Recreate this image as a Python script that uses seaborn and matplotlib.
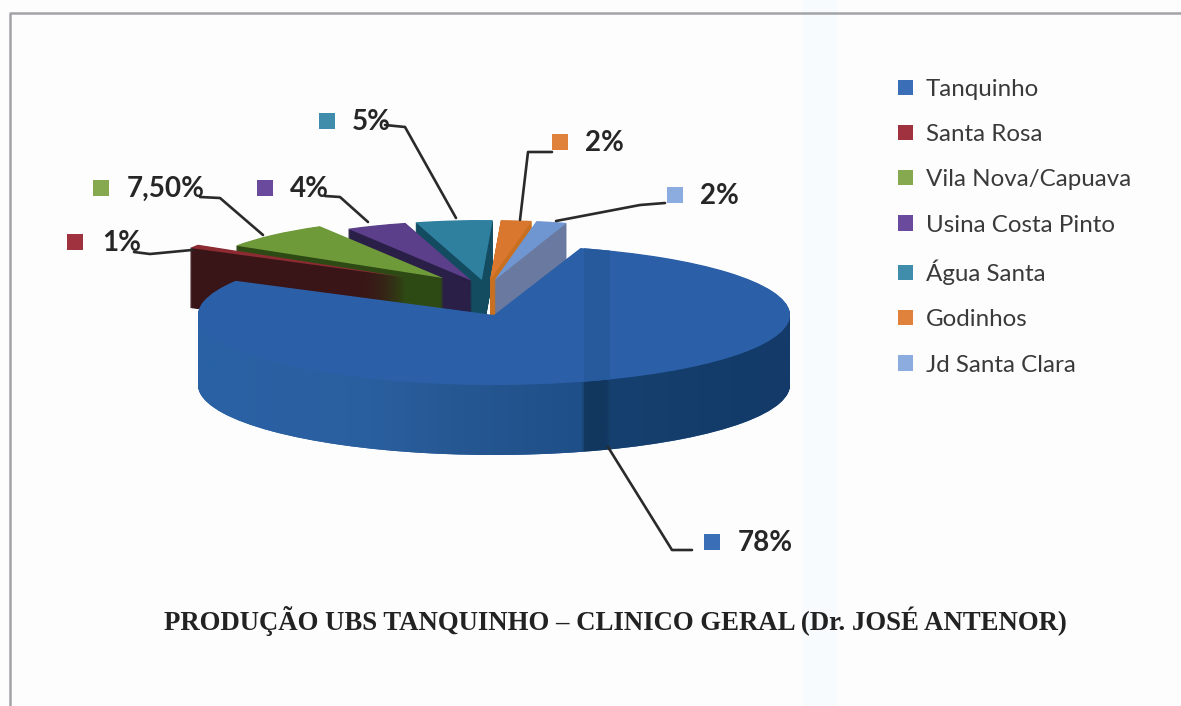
import numpy as np
import matplotlib
matplotlib.use("Agg")
import matplotlib.pyplot as plt
import seaborn as sns
from matplotlib.colors import LinearSegmentedColormap
from matplotlib.patches import Patch
from matplotlib.path import Path

# data
places = ["Tanquinho", "Santa Rosa", "Vila Nova/Capuava", "Usina Costa Pinto",
          "Água Santa", "Godinhos", "Jd Santa Clara"]
shares = [78, 1, 7.5, 4, 5, 2, 2]
share_labels = ["78%", "1%", "7,50%", "4%", "5%", "2%", "2%"]
title_text = "PRODUÇÃO UBS TANQUINHO – CLINICO GERAL (Dr. JOSÉ ANTENOR)"

W, H = 1181, 706

top_colors = sns.color_palette(["#2b60a8", "#8d2b33", "#6f9a3a", "#5b3f8a",
                                "#2f7f9f", "#d9772e", "#7096d2"])
side_colors = sns.color_palette(["#2a5f9f", "#3a1518", "#2e4a14", "#2a1f47",
                                 "#134c60", "#c8701f", "#69799f"])
key_colors = sns.color_palette(["#3a6fb8", "#a0323f", "#86a84f", "#6a4a9c",
                                "#3f8cab", "#e0823c", "#8cabdf"])
NONE = (0, 0, 0, 0)

sns.set_theme(style="white")
plt.rcParams["font.family"] = ["Lato", "DejaVu Sans"]

fig = plt.figure(figsize=(W / 100, H / 100), dpi=100, facecolor="#fdfdfe")


def pie_axes(z):
    ax = fig.add_axes([0, 0, 1, 1])
    ax.set_zorder(z)
    ax.patch.set_visible(False)
    return ax


def fit_axes(ax, cx, cy, sx, sy):
    # one pie unit = sx pixels across and sy pixels down, centre at pixel (cx, cy)
    ax.set_aspect("auto")
    ax.set_xlim(-cx / sx, (W - cx) / sx)
    ax.set_ylim((cy - H) / sy, cy / sy)
    ax.axis("off")


def draw_pie(ax, colors, explode, center=(0, 0)):
    wedges, _ = ax.pie(shares, colors=colors, explode=explode, startangle=73,
                       counterclock=False, center=center,
                       wedgeprops={"linewidth": 0})
    return wedges


# background: scan band and the frame
bg = fig.add_axes([0, 0, 1, 1])
bg.set_zorder(0)
bg.set_xlim(0, W)
bg.set_ylim(H, 0)
bg.axis("off")
bg.axvspan(802, 838, color="#f8fbfd", lw=0)
bg.plot([10, 10, W], [H, 13, 13], color="#a2a2a8", lw=1.8)

# small slices pulled out, at the back
ax_back = pie_axes(1)
back_explode = [0, 0.38, 0.25, 0.15, 0.15, 0.15, 0.15]
back_order = {0: 0, 4: 1, 5: 2, 6: 3, 3: 4, 2: 5, 1: 6}  # z rank for each slice
layers = 120
depth = 1.0
for n, d in enumerate(np.linspace(depth, 0.01, layers)):
    cols = [NONE] + list(side_colors[1:])
    for i, w in enumerate(draw_pie(ax_back, cols, back_explode, (0, -d))):
        w.set_zorder(back_order[i] * 1000 + n)
for i, w in enumerate(draw_pie(ax_back, [NONE] + list(top_colors[1:]), back_explode)):
    w.set_zorder(back_order[i] * 1000 + layers)
fit_axes(ax_back, 486, 289, 247, 60)

# big slice in front
ax_front = pie_axes(2)
blue_only = [side_colors[0]] + [NONE] * 6
side_paths = []
for d in np.linspace(1.0, 0.01, 70):
    w = draw_pie(ax_front, blue_only, None, (0, -d))[0]
    w.set_zorder(1)
    side_paths.append(w.get_patch_transform().transform_path(w.get_path()))
top_wedge = draw_pie(ax_front, [top_colors[0]] + [NONE] * 6, None)[0]
top_wedge.set_zorder(5)
cx, cy, sx, sy = 494, 315, 296, 70
fit_axes(ax_front, cx, cy, sx, sy)

# sideways shading of the wall
stops = [(198, "#2a62a6"), (370, "#2a5f9f"), (450, "#265893"), (582, "#1f4f88"),
         (586, "#11375f"), (606, "#11375f"), (612, "#16406f"), (790, "#133a68")]
shade = LinearSegmentedColormap.from_list(
    "wall", [((x - 198) / (790 - 198), c) for x, c in stops])
x0, x1 = (198 - cx) / sx, (790 - cx) / sx
im = ax_front.imshow(np.linspace(0, 1, 600)[None, :], extent=(x0, x1, -3, 3),
                     aspect="auto", cmap=shade, zorder=2)
im.set_clip_path(Path.make_compound_path(*side_paths), ax_front.transData)
band = ax_front.axvspan((584 - cx) / sx, (610 - cx) / sx, color="#275a9c", lw=0, zorder=6)
band.set_clip_path(top_wedge)
fit_axes(ax_front, cx, cy, sx, sy)

# labels and leader lines, in pixels
ax_top = fig.add_axes([0, 0, 1, 1])
ax_top.set_zorder(3)
ax_top.patch.set_visible(False)
ax_top.set_xlim(0, W)
ax_top.set_ylim(H, 0)
ax_top.axis("off")

key_xy = [(712, 542), (75, 242), (101, 188), (265, 188), (327, 121), (560, 142), (675, 195)]
text_x = [738, 102, 127, 290, 352, 585, 700]
leaders = [
    [(608, 447), (672, 550), (692, 550)],
    [(134, 252), (150, 254), (192, 250)],
    [(200, 197), (220, 198), (263, 235)],
    [(325, 196), (340, 197), (368, 222)],
    [(385, 125), (405, 127), (456, 218)],
    [(552, 152), (528, 152), (520, 220)],
    [(665, 203), (640, 205), (556, 221)],
]
for i in range(len(places)):
    ax_top.scatter(*key_xy[i], marker="s", s=125, color=key_colors[i], linewidths=0)
    ax_top.text(text_x[i], key_xy[i][1] + 1, share_labels[i], fontsize=20, fontweight="bold",
                color="#262626", va="center", ha="left")
    xs, ys = zip(*leaders[i])
    ax_top.plot(xs, ys, color="#2a2a2a", lw=1.9)

ax_top.text(615.5, 621, title_text, family="Liberation Serif", fontweight="bold", fontsize=19.3,
            color="#222222", ha="center", va="center")

handles = [Patch(facecolor=c, edgecolor="none") for c in key_colors]
leg = ax_top.legend(handles, places, loc="upper left", bbox_to_anchor=(898 / W, 1 - 79 / H),
                    bbox_transform=fig.transFigure, frameon=False, fontsize=17.4,
                    labelspacing=1.0, handlelength=0.6, handleheight=0.6, handletextpad=0.55,
                    borderpad=0, borderaxespad=0, labelcolor="#3a3a3a")

fig.savefig("out.png", dpi=100)
